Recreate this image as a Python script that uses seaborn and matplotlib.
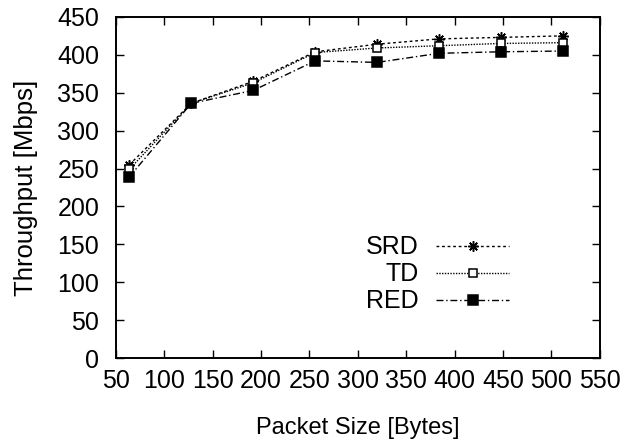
import pandas as pd
import matplotlib
matplotlib.use('Agg')
import matplotlib.pyplot as plt
import seaborn as sns

# 데이터
packet_size = [64, 128, 192, 256, 320, 384, 448, 512]
srd = [255, 336, 365, 404, 414, 421, 423, 425]
td = [249, 336, 363, 403, 409, 412, 415, 416]
red = [239, 336, 353, 392, 390, 402, 404, 405]

sns.set_style('ticks', {'text.color': 'black', 'axes.labelcolor': 'black',
                        'xtick.color': 'black', 'ytick.color': 'black',
                        'axes.edgecolor': 'black'})
plt.rcParams['font.family'] = ['Liberation Sans', 'DejaVu Sans']

df = pd.DataFrame({
    'size': packet_size * 3,
    'throughput': srd + td + red,
    'scheme': ['SRD'] * 8 + ['TD'] * 8 + ['RED'] * 8,
})

fig = plt.figure(figsize=(6.26, 4.45), dpi=100)
ax = fig.add_axes([0.185, 0.1955, 0.773, 0.7665])

styles = {
    'SRD': dict(ls=(0, (2, 2)), marker=(8, 2, 0), ms=7.5, mfc='black'),
    'TD': dict(ls=(0, (1, 1)), marker='s', ms=6, mfc='white'),
    'RED': dict(ls=(0, (5, 2, 1, 2)), marker='s', ms=7, mfc='black'),
}
for name in ['SRD', 'TD', 'RED']:
    s = styles[name]
    sns.lineplot(data=df[df['scheme'] == name], x='size', y='throughput', ax=ax,
                 color='black', lw=1, linestyle=s['ls'], marker=s['marker'],
                 markersize=s['ms'], markerfacecolor=s['mfc'],
                 markeredgecolor='black', markeredgewidth=1.1, label=name)

ax.set_xlim(50, 550)
ax.set_ylim(0, 450)
ax.set_xticks(range(50, 551, 50))
ax.set_yticks(range(0, 451, 50))
ax.tick_params(direction='in', top=True, right=True, length=6, width=1,
               labelsize=18, colors='black', pad=8)
ax.tick_params(axis='y', pad=12)
for sp in ax.spines.values():
    sp.set_linewidth(1.4)
ax.set_xlabel('Packet Size [Bytes]', fontsize=17, labelpad=17)
ax.set_ylabel('Throughput [Mbps]', fontsize=18.5, labelpad=14)

leg = ax.legend(loc='center', bbox_to_anchor=(0.665, 0.245), frameon=False,
                markerfirst=False, fontsize=18, handlelength=2.9,
                labelspacing=0.12, handletextpad=0.7, borderpad=0)

fig.savefig('out.png', dpi=100)
